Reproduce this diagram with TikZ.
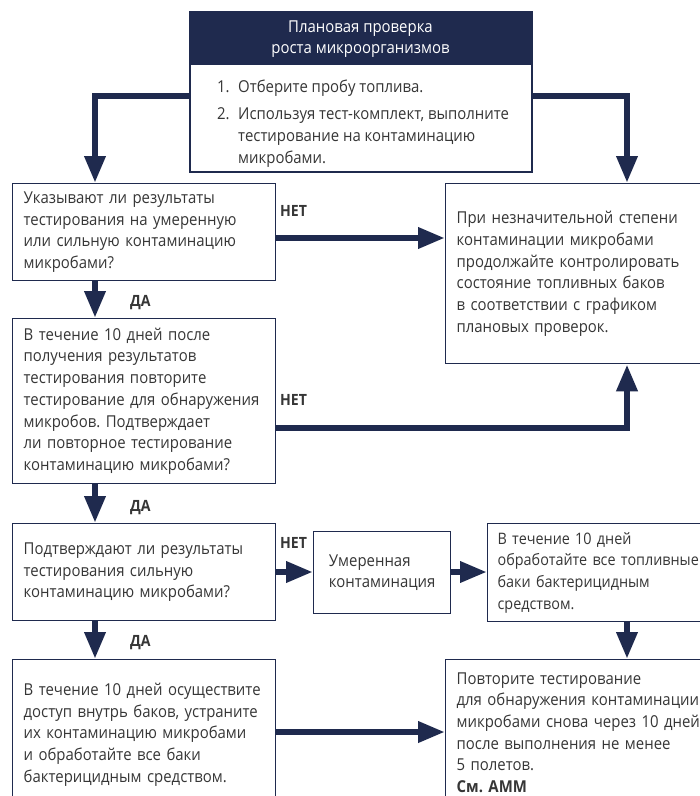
\documentclass[tikz,border=0pt]{standalone}
\usepackage{fontspec}
\setmainfont{Open Sans}[FakeStretch=0.91]
\usetikzlibrary{arrows.meta}
\definecolor{navy}{HTML}{1F2A4E}
\definecolor{txt}{HTML}{363636}
\frenchspacing
\begin{document}
\begin{tikzpicture}[x=1pt,y=-1pt,
  box/.style={draw=navy, line width=1.3pt, fill=white, anchor=north west, align=left,
    inner xsep=11pt, inner ysep=0pt, text=txt, font=\fontsize{16.4}{21.7}\selectfont},
  lbl/.style={anchor=west, inner sep=0pt, text=txt, font=\fontsize{15.5}{18}\selectfont\bfseries},
  arr/.style={draw=navy, line width=6.5pt, line join=miter, -{Triangle[length=27pt,width=20pt]}}]
\useasboundingbox (0,0) rectangle (700,796);
\clip (0,0) rectangle (700,796);
\fill[white] (0,0) rectangle (700,796);

% top box
\node[box, minimum width=341pt, minimum height=159pt] (top) at (190,12) {};
\fill[navy] (top.north west) rectangle ([yshift=-53pt]top.north east);
\draw[navy, line width=1.3pt] (top.north west) rectangle (top.south east);
\node[text=white, align=center, inner sep=0pt, font=\fontsize{16.4}{21.7}\selectfont] (hdr) at (360.5,39)
  {Плановая проверка\\роста микроорганизмов};
\node[anchor=base west, align=left, inner sep=0pt, text=txt, font=\fontsize{16.4}{21.7}\selectfont] (lst) at (217,163)
  {\makebox[21pt][l]{1.}Отберите пробу топлива.\\[5.3pt]
   \makebox[21pt][l]{2.}Используя тест-комплект, выполните\\
   \hspace*{21pt}тестирование на контаминацию\\
   \hspace*{21pt}микробами.};

% boxes
\node[box, minimum width=263pt, minimum height=97pt, text width=241pt] (b1) at (12,183)
  {Указывают ли результаты\\тестирования на умеренную\\или сильную контаминацию\\микробами?};
\node[box, minimum width=270pt, minimum height=180pt, text width=248pt] (R) at (445,183)
  {При незначительной степени\\контаминации микробами\\продолжайте контролировать\\состояние топливных баков\\в соответствии с графиком\\плановых проверок.};
\node[box, minimum width=263pt, minimum height=165pt, text width=241pt] (b2) at (12,318)
  {В течение 10 дней после\\получения результатов\\тестирования повторите\\тестирование для обнаружения\\микробов. Подтверждает\\ли повторное тестирование\\контаминацию микробами?};
\node[box, minimum width=263pt, minimum height=97pt, text width=241pt] (b3) at (12,523)
  {Подтверждают ли результаты\\тестирования сильную\\контаминацию микробами?};
\node[box, minimum width=137pt, minimum height=82pt] (m) at (313,531)
  {Умеренная\\контаминация};
\node[box, minimum width=250pt, minimum height=98pt, inner xsep=10pt, text width=230pt,
      font=\fontsize{15.8}{21.7}\selectfont] (b4) at (487,523)
  {В течение 10 дней\\обработайте все топливные\\баки бактерицидным\\средством.};
\node[box, minimum width=270pt, minimum height=146pt, text width=248pt] (b5) at (445,659)
  {Повторите тестирование\\для обнаружения контаминации\\микробами снова через 10 дней\\после выполнения не менее\\5 полетов.\\\textbf{См. AMM}};
\node[box, minimum width=263pt, minimum height=150pt, text width=241pt] (b6) at (12,659)
  {В течение 10 дней осуществите\\доступ внутрь баков, устраните\\их контаминацию микробами\\и обработайте все баки\\бактерицидным средством.};

% labels
\node[lbl] (n1) at (280,211) {НЕТ};
\node[lbl] (d1) at (130,303) {ДА};
\node[lbl] (n2) at (280,400) {НЕТ};
\node[lbl] (d2) at (130,508) {ДА};
\node[lbl] (n3) at (280,543) {НЕТ};
\node[lbl] (d3) at (130,643) {ДА};

% connectors
\draw[arr] (top.west |- 0,96) -| (95,0 |- b1.north);
\draw[arr] (top.east |- 0,96) -| (627,0 |- R.north);
\draw[arr] (b1.east |- 0,238) -- (R.west |- 0,238);
\draw[arr] (95,0 |- b1.south) -- (95,0 |- b2.north);
\draw[arr] (b2.east |- 0,428) -| (627,0 |- R.south);
\draw[arr] (95,0 |- b2.south) -- (95,0 |- b3.north);
\draw[arr] (b3.east |- 0,572) -- (m.west |- 0,572);
\draw[arr] (m.east |- 0,572) -- (b4.west |- 0,572);
\draw[arr] (627,0 |- b4.south) -- (627,0 |- b5.north);
\draw[arr] (95,0 |- b3.south) -- (95,0 |- b6.north);
\draw[arr] (b6.east |- 0,732) -- (b5.west |- 0,732);
\end{tikzpicture}
\end{document}
